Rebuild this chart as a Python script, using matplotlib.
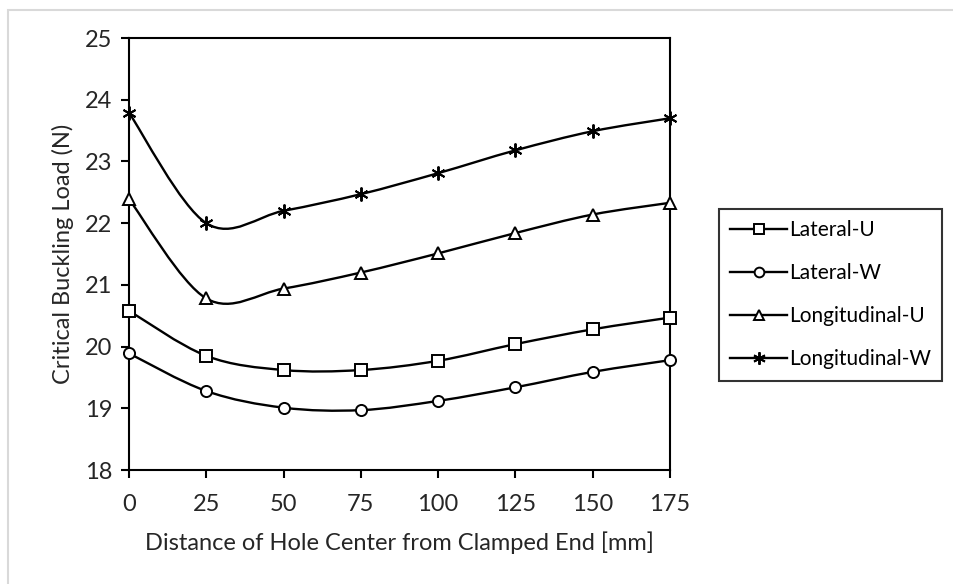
"""
Critical buckling load vs. hole position (Excel-style smoothed lines)
"""

import numpy as np
import matplotlib.pyplot as plt
from matplotlib.path import Path
from matplotlib.patches import PathPatch, Rectangle
from matplotlib.lines import Line2D

# Data
distance = [0, 25, 50, 75, 100, 125, 150, 175]
lateral_u = [20.58, 19.85, 19.62, 19.62, 19.77, 20.04, 20.28, 20.47]
lateral_w = [19.89, 19.28, 19.01, 18.97, 19.12, 19.34, 19.59, 19.78]
longitudinal_u = [22.39, 20.78, 20.94, 21.20, 21.51, 21.84, 22.14, 22.33]
longitudinal_w = [23.79, 22.00, 22.20, 22.47, 22.81, 23.18, 23.49, 23.70]

series_names = ['Lateral-U', 'Lateral-W', 'Longitudinal-U', 'Longitudinal-W']
series_values = [lateral_u, lateral_w, longitudinal_u, longitudinal_w]
markers = ['s', 'o', '^', (6, 2, 0)]
msizes = [8, 8, 8, 10]

plt.rcParams['font.family'] = ['Lato', 'DejaVu Sans']
font = 17


def smooth_path(x, y):
    # Bezier smoothing like Excel (Catmull-Rom, tension 1/6)
    p = np.column_stack([x, y]).astype(float)
    n = len(p)
    verts = [p[0]]
    codes = [Path.MOVETO]
    for i in range(n - 1):
        p0 = p[i - 1] if i > 0 else p[i]
        p3 = p[i + 2] if i + 2 < n else p[i + 1]
        c1 = p[i] + (p[i + 1] - p0) / 6
        c2 = p[i + 1] - (p3 - p[i]) / 6
        verts += [c1, c2, p[i + 1]]
        codes += [Path.CURVE4] * 3
    return Path(verts, codes)


fig = plt.figure(figsize=(9.54, 5.84), dpi=100)
fig.patches.append(Rectangle((8 / 954, -0.05), 1.2, 1 - 10 / 584 + 0.05,
                             transform=fig.transFigure, fill=False,
                             edgecolor='#d9d9d9', linewidth=1.5))
ax = fig.add_axes([0.1352, 0.1952, 0.5671, 0.7397])

handles = []
for name, vals, m, ms in zip(series_names, series_values, markers, msizes):
    ax.add_patch(PathPatch(smooth_path(distance, vals), fill=False,
                           edgecolor='black', linewidth=1.7, zorder=2))
    ax.plot(distance, vals, linestyle='none', marker=m, markersize=ms,
            markerfacecolor='white' if m != (6, 2, 0) else 'black',
            markeredgecolor='black', markeredgewidth=1.4, zorder=3,
            clip_on=False)
    handles.append(Line2D([], [], color='black', linewidth=1.7, marker=m,
                          markersize=ms - 1, markerfacecolor='white',
                          markeredgecolor='black', markeredgewidth=1.4,
                          label=name))

ax.set_xlim(0, 175)
ax.set_ylim(18, 25)
ax.set_xticks(distance)
ax.set_yticks(range(18, 26))
ax.tick_params(direction='out', length=6, width=1.5, labelsize=font,
               colors='black', pad=6, labelcolor='#262626')
ax.tick_params(axis='x', pad=11)
for s in ax.spines.values():
    s.set_linewidth(1.5)
    s.set_color('black')

ax.set_xlabel('Distance of Hole Center from Clamped End [mm]', fontsize=font,
              labelpad=12, color='#262626')
ax.set_ylabel('Critical Buckling Load (N)', fontsize=font, labelpad=8,
              color='#262626')

leg = ax.legend(handles=handles, loc='upper left',
                bbox_to_anchor=(719 / 954, 1 - 209 / 584),
                bbox_transform=fig.transFigure, fontsize=15,
                frameon=True, fancybox=False, edgecolor='black',
                handlelength=2.7, handletextpad=0.1, labelspacing=1.1,
                borderpad=0.55, borderaxespad=0)
leg.get_frame().set_linewidth(1.5)

plt.savefig('out.png', dpi=100)
